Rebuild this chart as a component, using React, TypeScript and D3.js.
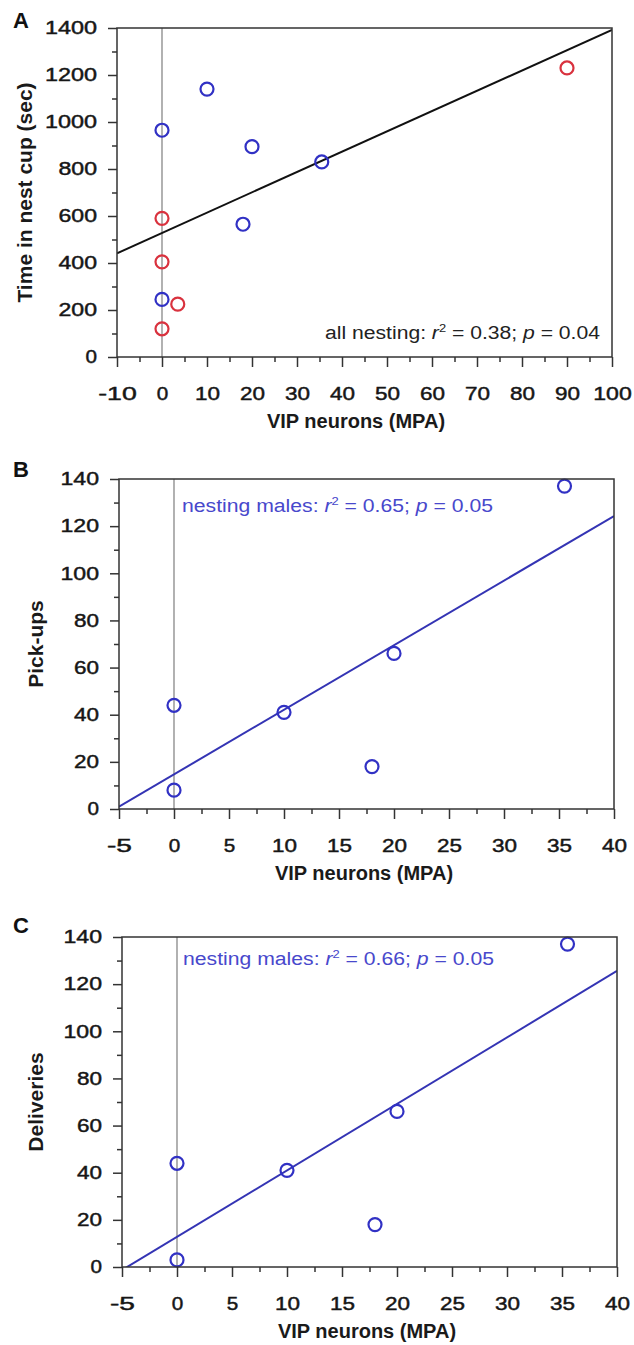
import React, { useEffect, useRef } from 'react';
import * as d3 from 'd3';

// panel A: time in nest cup vs VIP neurons
const aMaleVip = [0, 10, 20, 35.5, 18, 0];
const aMaleTime = [965, 1140, 895, 830, 565, 245];
const aFemaleVip = [0, 0, 0, 3.5, 90];
const aFemaleTime = [590, 405, 120, 225, 1230];
const aFit = [528, 8.64]; // intercept, slope
const aXTicks = [-10, 0, 10, 20, 30, 40, 50, 60, 70, 80, 90, 100];
const aYTicks = [0, 200, 400, 600, 800, 1000, 1200, 1400];

// panel B: pick-ups
const bVip = [0, 0, 10, 18, 20, 35.5];
const bPickups = [44, 8, 41, 18, 66, 137];
const bFit = [14.7, 2.74];

// panel C: deliveries
const cVip = [0, 0, 10, 18, 20, 35.5];
const cDeliveries = [44, 3, 41, 18, 66, 137];
const cFit = [12.8, 2.82];

const bcXTicks = [-5, 0, 5, 10, 15, 20, 25, 30, 35, 40];
const bcYTicks = [0, 20, 40, 60, 80, 100, 120, 140];

const statLabels = ['all nesting', 'nesting males', 'nesting males'];
const statR2 = ['0.38', '0.65', '0.66'];
const statP = ['0.04', '0.05', '0.05'];

const BLUE = '#3131c4';
const RED = '#d9323e';
const FONT = '"Liberation Sans", Arial, Helvetica, sans-serif';

const panels = [
  {
    letter: 'A', ylabel: 'Time in nest cup (sec)',
    left: 117, right: 612, top: 28, bottom: 357,
    xTicks: aXTicks, yTicks: aYTicks,
    series: [
      { x: aMaleVip, y: aMaleTime, color: BLUE },
      { x: aFemaleVip, y: aFemaleTime, color: RED },
    ],
    fit: aFit, fitColor: '#111',
    stat: 0, statColor: '#222', statX: 600, statY: 339, statAnchor: 'end', statLen: 275,
    ylabelX: 32, xlabelX: 356, letterY: 28,
  },
  {
    letter: 'B', ylabel: 'Pick-ups',
    left: 119, right: 614, top: 479, bottom: 809,
    xTicks: bcXTicks, yTicks: bcYTicks,
    series: [{ x: bVip, y: bPickups, color: BLUE }],
    fit: bFit, fitColor: '#3434b4',
    stat: 1, statColor: '#4848cc', statX: 182, statY: 512, statAnchor: 'start', statLen: 311,
    ylabelX: 43, xlabelX: 364, letterY: 477,
  },
  {
    letter: 'C', ylabel: 'Deliveries',
    left: 122, right: 617, top: 937, bottom: 1267,
    xTicks: bcXTicks, yTicks: bcYTicks,
    series: [{ x: cVip, y: cDeliveries, color: BLUE }],
    fit: cFit, fitColor: '#3434b4',
    stat: 2, statColor: '#4848cc', statX: 183, statY: 965, statAnchor: 'start', statLen: 311,
    ylabelX: 43, xlabelX: 367, letterY: 933,
  },
];

const fmt = (d: number) => (d < 0 ? '-' + Math.abs(d) : String(d));

const drawPanel = (svg: any, p: any, i: number) => {
  const xDom = [p.xTicks[0], p.xTicks[p.xTicks.length - 1]];
  const yDom = [p.yTicks[0], p.yTicks[p.yTicks.length - 1]];
  const x = d3.scaleLinear().domain(xDom).range([p.left, p.right]);
  const y = d3.scaleLinear().domain(yDom).range([p.bottom, p.top]);
  const g = svg.append('g');

  const clipId = `plot-clip-${i}`;
  g.append('clipPath').attr('id', clipId)
    .append('rect')
    .attr('x', p.left).attr('y', p.top)
    .attr('width', p.right - p.left).attr('height', p.bottom - p.top);

  // vertical reference at x = 0
  g.append('line')
    .attr('x1', x(0)).attr('x2', x(0))
    .attr('y1', p.top).attr('y2', p.bottom)
    .attr('stroke', '#7e7e7e').attr('stroke-width', 1.2);

  // regression line
  const line = d3.line<number>().x(d => x(d)).y(d => y(p.fit[0] + p.fit[1] * d));
  g.append('path')
    .datum(xDom)
    .attr('d', line)
    .attr('clip-path', `url(#${clipId})`)
    .attr('fill', 'none')
    .attr('stroke', p.fitColor)
    .attr('stroke-width', 2);

  // points
  p.series.forEach((s: any) => {
    g.append('g').selectAll('circle')
      .data(d3.zip(s.x, s.y))
      .join('circle')
      .attr('cx', (d: number[]) => x(d[0]))
      .attr('cy', (d: number[]) => y(d[1]))
      .attr('r', 6.5)
      .attr('fill', 'none')
      .attr('stroke', s.color)
      .attr('stroke-width', 2.2);
  });

  // frame
  g.append('rect')
    .attr('x', p.left).attr('y', p.top)
    .attr('width', p.right - p.left).attr('height', p.bottom - p.top)
    .attr('fill', 'none').attr('stroke', '#333').attr('stroke-width', 1.5);

  const xStep = p.xTicks[1] - p.xTicks[0];
  const yStep = p.yTicks[1] - p.yTicks[0];
  const xMinor = d3.range(xDom[0] + xStep / 2, xDom[1], xStep);
  const yMinor = d3.range(yDom[0] + yStep / 2, yDom[1], yStep);

  const styleAxis = (ax: any) => {
    ax.select('.domain').remove();
    ax.selectAll('line').attr('stroke', '#333').attr('stroke-width', 1.5);
    ax.selectAll('text')
      .attr('fill', '#161616')
      .attr('stroke', '#161616')
      .attr('stroke-width', 0.45)
      .attr('font-size', 18)
      .attr('font-family', FONT)
      .attr('lengthAdjust', 'spacingAndGlyphs')
      .attr('textLength', function (this: any) {
        const n = (this.textContent || '').length;
        return n === 0 ? null : n * 13.5 - 2;
      });
  };

  // y axis
  g.append('g').attr('transform', `translate(${p.left},0)`)
    .call(d3.axisLeft(y).tickValues(yMinor).tickSize(5).tickFormat(() => ''))
    .call(styleAxis);
  g.append('g').attr('transform', `translate(${p.left},0)`)
    .call(d3.axisLeft(y).tickValues(p.yTicks).tickSize(9).tickPadding(11).tickFormat((d: any) => fmt(d)))
    .call(styleAxis);

  // x axis
  g.append('g').attr('transform', `translate(0,${p.bottom})`)
    .call(d3.axisBottom(x).tickValues(xMinor).tickSize(5).tickFormat(() => ''))
    .call(styleAxis);
  g.append('g').attr('transform', `translate(0,${p.bottom})`)
    .call(d3.axisBottom(x).tickValues(p.xTicks).tickSize(10).tickPadding(20).tickFormat((d: any) => fmt(d)))
    .call(styleAxis);

  // axis titles
  g.append('text')
    .attr('x', p.xlabelX).attr('y', p.bottom + 71)
    .attr('text-anchor', 'middle')
    .attr('font-family', FONT).attr('font-weight', 'bold').attr('font-size', 20)
    .attr('fill', '#1a1a1a')
    .text('VIP neurons (MPA)');

  g.append('text')
    .attr('transform', `translate(${p.ylabelX},${(p.top + p.bottom) / 2}) rotate(-90)`)
    .attr('text-anchor', 'middle')
    .attr('font-family', FONT).attr('font-weight', 'bold').attr('font-size', 21)
    .attr('fill', '#1a1a1a')
    .text(p.ylabel);

  // panel letter
  g.append('text')
    .attr('x', 13).attr('y', p.letterY)
    .attr('font-family', FONT).attr('font-weight', 'bold').attr('font-size', 22)
    .attr('fill', '#111')
    .text(p.letter);

  // stats annotation
  const t = g.append('text')
    .attr('x', p.statX).attr('y', p.statY)
    .attr('text-anchor', p.statAnchor)
    .attr('font-family', FONT).attr('font-size', 18)
    .attr('fill', p.statColor)
    .attr('textLength', p.statLen)
    .attr('lengthAdjust', 'spacingAndGlyphs');
  t.append('tspan').text(statLabels[p.stat] + ': ');
  t.append('tspan').attr('font-style', 'italic').text('r');
  t.append('tspan').attr('font-size', 11).attr('dy', -7).text('2');
  t.append('tspan').attr('dy', 7).text(' = ' + statR2[p.stat] + '; ');
  t.append('tspan').attr('font-style', 'italic').text('p');
  t.append('tspan').text(' = ' + statP[p.stat]);
};

const App = () => {
  const svgRef = useRef<SVGSVGElement>(null);

  useEffect(() => {
    const svg = d3.select(svgRef.current);
    svg.selectAll('*').remove();
    panels.forEach((p, i) => drawPanel(svg, p, i));
  }, []);

  return (
    <svg
      ref={svgRef}
      width={634}
      height={1345}
      style={{ position: 'absolute', left: 0, top: 0, background: '#fff' }}
    />
  );
};

export default App;
